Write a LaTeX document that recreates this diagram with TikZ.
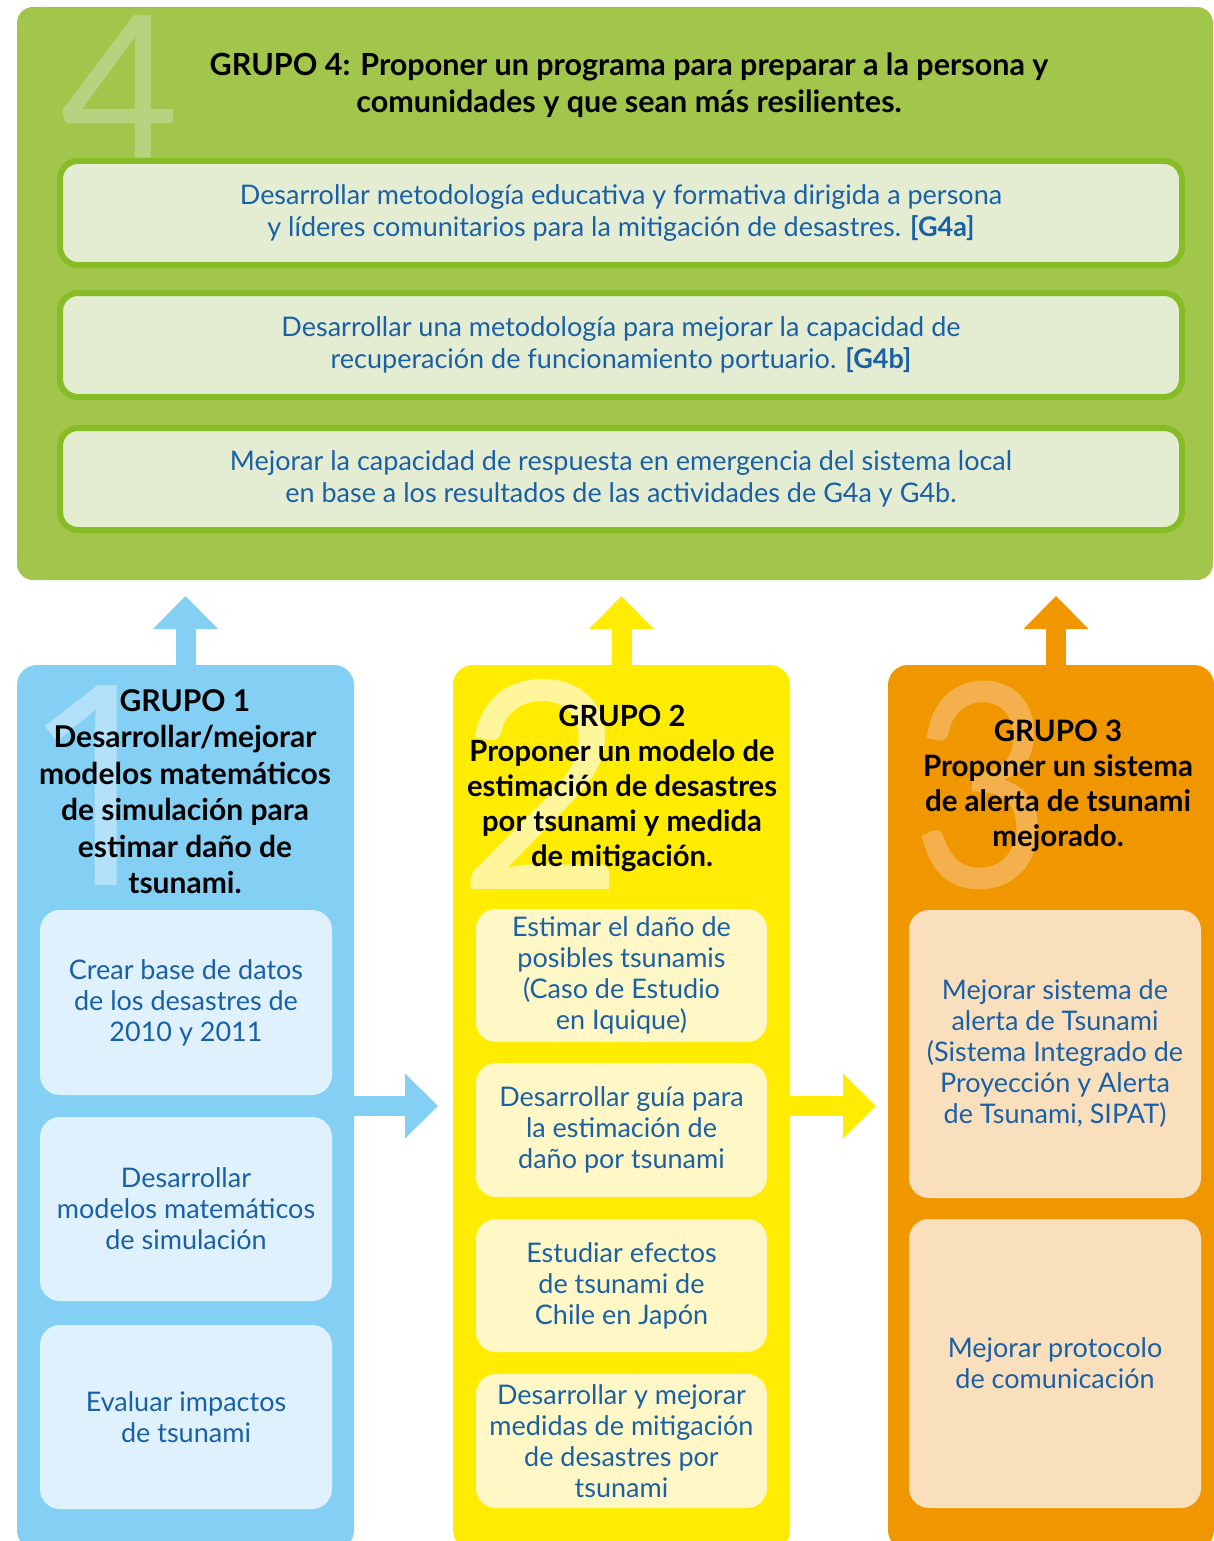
\documentclass[tikz,border=0pt]{standalone}
\usepackage{fontspec}
\setmainfont{Lato}
\newfontfamily\numfont{Open Sans}
\usetikzlibrary{arrows.meta}
\definecolor{gbg}{HTML}{A2C64B}
\definecolor{gborder}{HTML}{86BC25}
\definecolor{gfill}{HTML}{E4EDD2}
\definecolor{gnum}{HTML}{B6D47F}
\definecolor{bcol}{HTML}{84D0F4}
\definecolor{bsub}{HTML}{DFF1FC}
\definecolor{bnum}{HTML}{B2E1F9}
\definecolor{ycol}{HTML}{FFEC00}
\definecolor{ysub}{HTML}{FFF8C6}
\definecolor{ynum}{HTML}{FFF59B}
\definecolor{ocol}{HTML}{F09700}
\definecolor{osub}{HTML}{FADFBC}
\definecolor{onum}{HTML}{F3B04C}
\definecolor{tblue}{HTML}{1A60A6}
\begin{document}
\begin{tikzpicture}[x=1pt,y=-1pt,
 panel/.style={rounded corners=20pt, inner sep=0pt, draw=none},
 subbox/.style={rounded corners=20pt, inner sep=0pt, minimum width=292pt, text=tblue, align=center, font=\fontsize{27}{31}\selectfont},
 gbox/.style={rounded corners=18pt, fill=gfill, draw=gborder, line width=6pt, minimum width=1122pt, minimum height=104pt, inner sep=0pt, text=tblue, align=center, font=\fontsize{27}{32}\selectfont},
 head/.style={align=center, font=\bfseries\fontsize{30}{36.5}\selectfont, inner sep=0pt, text=black},
 bignum/.style={inner sep=0pt},
 blockarrow/.style={line width=20pt, -{Triangle[length=33pt 0 0, width=65pt 0 0, line width=0pt 0 0]}},
]
\clip (0,0) rectangle (1214,1541);
\fill[white] (0,0) rectangle (1214,1541);
% group 4 panel
\node[panel, fill=gbg, rounded corners=16pt, minimum width=1196pt, minimum height=573pt] (g4) at (615,293.5) {};
\node[bignum, text=gnum, font=\fontsize{205}{205}\selectfont] (n4) at (120,89.5) {4};
\node[head, font=\bfseries\fontsize{30.5}{36.5}\selectfont] (t4) at (629,85) {GRUPO 4: Proponer un programa para preparar a la persona y\\comunidades y que sean más resilientes.};
\node[gbox] (g4a) at (621,213) {Desarrollar metodología educativa y formativa dirigida a persona\\y líderes comunitarios para la mitigación de desastres. \textbf{[G4a]}};
\node[gbox] (g4b) at (621,345) {Desarrollar una metodología para mejorar la capacidad de\\recuperación de funcionamiento portuario. \textbf{[G4b]}};
\node[gbox, minimum height=102pt] (g4c) at (621,479) {Mejorar la capacidad de respuesta en emergencia del sistema local\\en base a los resultados de las actividades de G4a y G4b.};
% columns
\node[panel, fill=bcol, minimum width=337pt, minimum height=885pt] (col1) at (185.5,1107.5) {};
\node[panel, fill=ycol, minimum width=337pt, minimum height=885pt] (col2) at (621.5,1107.5) {};
\node[panel, fill=ocol, minimum width=326pt, minimum height=885pt] (col3) at (1051,1107.5) {};
% arrows
\coordinate (u1) at (185.5,596);
\coordinate (u2) at (621.5,596);
\coordinate (u3) at (1056,596);
\draw[blockarrow, bcol] (col1.north) -- (u1);
\draw[blockarrow, ycol] (col2.north) -- (u2);
\draw[blockarrow, ocol] (col3.north -| u3) -- (u3);
\coordinate (h1) at (438,1106);
\coordinate (h2) at (876,1106);
\draw[blockarrow, bcol] (col1.east |- h1) -- (h1);
\draw[blockarrow, ycol] (col2.east |- h2) -- (h2);
% big numerals
\node[bignum, text=bnum, font=\numfont\fontsize{280}{280}\selectfont] (n1) at (100,786) {1};
\node[bignum, text=ynum, font=\fontsize{290}{290}\selectfont] (n2) at (542,784) {2};
\node[bignum, text=onum, font=\fontsize{285}{285}\selectfont, xscale=0.85] (n3) at (982,785) {3};
% headers
\node[head] (h1t) at (185,791.5) {GRUPO 1\\Desarrollar/mejorar\\modelos matemáticos\\de simulación para\\estimar daño de\\tsunami.};
\node[head, font=\bfseries\fontsize{29.2}{35}\selectfont] (h2t) at (622,788) {GRUPO 2\\Proponer un modelo de\\estimación de desastres\\por tsunami y medida\\de mitigación.};
\node[head, font=\bfseries\fontsize{29.5}{35}\selectfont] (h3t) at (1058,785.5) {GRUPO 3\\Proponer un sistema\\de alerta de tsunami\\mejorado.};
% sub boxes group 1
\node[subbox, fill=bsub, minimum height=185pt] (b1) at (186,1002.5) {Crear base de datos\\de los desastres de\\2010 y 2011};
\node[subbox, fill=bsub, minimum height=184pt] (b2) at (186,1209) {Desarrollar\\modelos matemáticos\\de simulación};
\node[subbox, fill=bsub, minimum height=184pt] (b3) at (186,1417) {Evaluar impactos\\de tsunami};
% group 2
\node[subbox, fill=ysub, minimum width=291pt, minimum height=133pt] (y1) at (621.5,975.5) {Estimar el daño de\\posibles tsunamis\\(Caso de Estudio\\en Iquique)};
\node[subbox, fill=ysub, minimum width=291pt, minimum height=134pt] (y2) at (621.5,1130) {Desarrollar guía para\\la estimación de\\daño por tsunami};
\node[subbox, fill=ysub, minimum width=291pt, minimum height=133pt] (y3) at (621.5,1285.5) {Estudiar efectos\\de tsunami de\\Chile en Japón};
\node[subbox, fill=ysub, minimum width=291pt, minimum height=134pt] (y4) at (621.5,1441) {Desarrollar y mejorar\\medidas de mitigación\\de desastres por\\tsunami};
% group 3
\node[subbox, fill=osub, minimum height=288pt] (o1) at (1055,1054) {Mejorar sistema de\\alerta de Tsunami\\(Sistema Integrado de\\Proyección y Alerta\\de Tsunami, SIPAT)};
\node[subbox, fill=osub, minimum height=289pt] (o2) at (1055,1363.5) {Mejorar protocolo\\de comunicación};
\end{tikzpicture}
\end{document}
